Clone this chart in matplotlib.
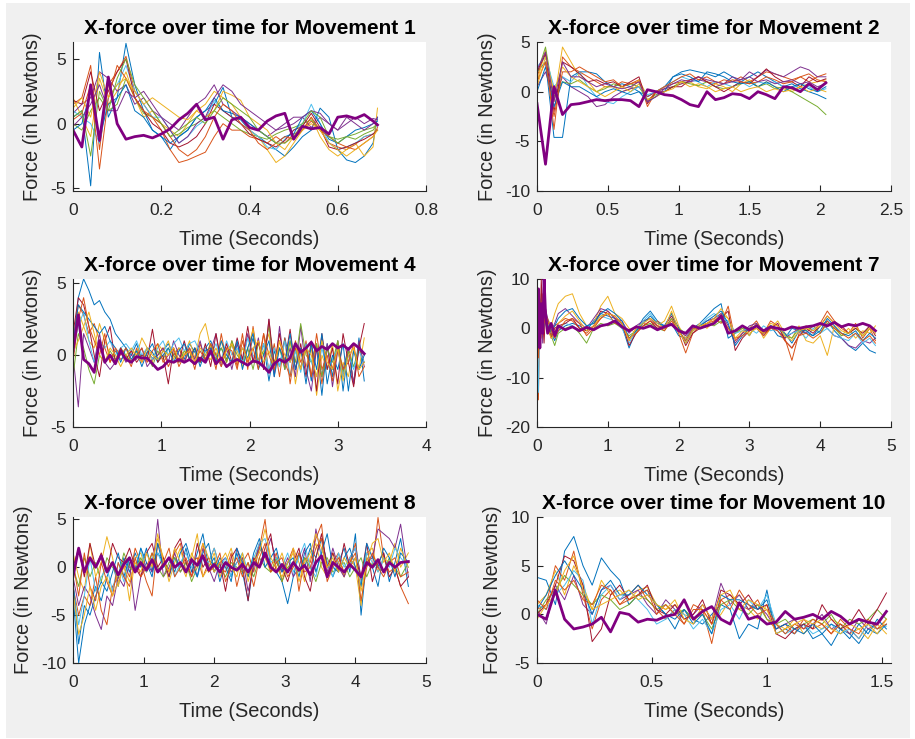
import matplotlib
matplotlib.use("Agg")
import matplotlib.pyplot as plt
from matplotlib.patches import Rectangle

plt.rcParams['font.family'] = ['Liberation Sans', 'DejaVu Sans']
plt.rcParams['axes.unicode_minus'] = False

# MATLAB default line colours, used in turn for the thin trial lines
TRIAL_COLORS = ['#0072BD', '#D95319', '#EDB120', '#7E2F8E', '#77AC30', '#4DBEEE', '#A2142F']
HIGHLIGHT_COLOR = '#800080'

# ---------------- Movement 1 ----------------
T_M1 = [0, .02, .04, .06, .08, .10, .12, .14, .16, .18, .20, .22, .24, .26, .28, .30, .32, .34,
        .36, .38, .40, .42, .44, .46, .48, .50, .52, .54, .56, .58, .60, .62, .64, .66, .68, .69]
M1_TRIALS = [
    [0.5, 1.0, -4.8, 5.5, 0.5, 2.0, 6.2, 3.0, 1.0, -0.5, -1.0, -2.0, -1.0, -0.5, 0.5, 1.0, 1.5, 2.8,
     0.5, 0.3, -0.5, -1.0, -1.5, -2.0, -2.5, -1.8, -1.0, -0.5, 1.2, 0.5, -2.0, -2.8, -3.0, -2.5, -1.5, 0.5],
    [1.5, 2.0, 4.5, -2.0, 3.0, 4.0, 5.2, 2.5, 1.5, 0.5, -0.5, -2.0, -3.0, -2.8, -2.5, -2.2, -1.0, 0.0,
     -0.5, -0.5, -1.0, -1.2, -1.5, -1.0, -1.5, -0.8, -0.5, 0.2, -0.5, -1.5, -1.8, -2.0, -1.6, -1.0, -0.8, -0.5],
    [2.0, 0.5, -1.0, 3.5, 1.5, 2.5, 4.0, 2.0, 0.5, 1.0, 0.0, -0.5, -1.0, 0.0, 1.0, 1.5, 2.5, 2.0,
     1.5, 0.5, -0.5, -1.0, -2.0, -3.0, -2.5, -1.5, -0.5, 0.5, -1.0, -2.0, -2.5, -2.0, -1.5, -2.5, -1.8, 1.2],
    [0.8, 1.5, 2.0, 4.0, 3.5, 2.5, 3.0, 1.5, 2.0, 1.0, 0.5, 0.0, -0.5, 0.5, 1.5, 2.0, 3.0, 1.5,
     1.0, 0.5, 0.0, -0.5, -1.0, -0.5, 0.0, 0.5, 0.5, -0.3, 0.5, 0.0, -0.5, 0.0, 0.5, 0.0, 0.4, 0.3],
    [0.0, -0.5, 1.0, 2.0, 1.0, 1.5, 3.5, 2.0, 0.8, 0.5, 0.0, -1.0, -0.8, -0.3, 0.0, 0.5, 1.0, 0.5,
     0.0, -0.5, -0.8, -1.0, -1.2, -0.8, -0.5, -0.3, 0.0, 0.3, -0.5, -1.0, -1.2, -1.0, -0.8, -0.5, -0.3, 0.0],
    [1.0, 0.5, 0.0, -1.5, 2.0, 3.0, 4.5, 2.5, 1.5, 0.5, 0.5, -0.5, -1.5, -1.0, -0.2, 0.3, 1.8, 1.0,
     0.5, 0.0, -0.5, -1.0, -1.8, -2.0, -1.2, -0.5, 0.0, 1.5, 0.0, -1.5, -2.0, -1.8, -1.5, -1.0, -0.8, -0.5],
    [1.8, 1.5, 4.0, 1.0, 2.5, 4.0, 5.0, 2.0, 1.0, 0.0, -0.5, -1.5, -1.8, -1.5, -1.0, 0.0, 1.5, 1.0,
     0.5, 0.0, -0.8, -1.2, -1.5, -1.8, -1.3, -0.5, -0.2, 0.8, -0.3, -1.8, -2.0, -1.8, -1.5, -1.2, -0.8, -0.5],
    [-0.5, 0.0, 2.5, -1.0, 1.5, 2.0, 3.0, 1.0, 0.5, -0.5, -1.0, -1.5, -1.0, -0.5, 0.5, 1.0, 2.0, 1.0,
     0.8, 0.5, 0.0, -0.5, -1.0, -1.5, -1.0, -0.8, 0.5, 1.0, 0.0, -1.2, -1.5, -1.0, -0.5, -0.3, 0.0, 0.2],
    [0.3, 0.8, 3.0, -3.5, 2.0, 4.5, 3.5, 2.0, 1.0, 0.5, 0.0, -1.0, -2.0, -2.5, -2.0, -1.0, 0.5, 1.5,
     1.0, 0.0, -0.5, -1.5, -2.0, -1.5, -1.0, -1.2, -0.5, 0.5, -0.5, -1.0, -1.5, -1.8, -2.0, -1.5, -1.0, -0.3],
    [1.2, 2.0, 0.5, 4.0, 2.0, 3.0, 3.5, 2.5, 1.5, 2.0, 1.5, 1.0, 0.5, 0.3, 1.0, 0.5, 1.0, 2.5,
     2.2, 1.8, 0.5, 0.0, -0.5, -1.5, -2.0, -1.0, -0.5, 0.0, -0.5, -1.5, -2.0, -2.5, -2.0, -1.5, -1.0, -0.5],
    [-0.2, 0.5, 1.5, 3.0, 1.0, 1.0, 2.5, 2.0, 2.5, 1.5, 0.5, -0.5, -1.5, -1.0, 0.0, 0.5, 2.0, 3.0,
     2.5, 1.5, 1.0, 0.5, 0.0, -0.5, -0.3, 0.0, 0.5, 1.0, 0.8, 0.0, -0.5, 0.5, 0.0, -0.5, 0.0, 0.5],
    [0.5, 1.0, -2.5, 2.5, 1.0, 3.5, 5.0, 3.0, 2.0, 1.0, 0.0, -1.0, -0.5, 0.0, 0.5, 0.0, 1.0, 2.0,
     1.5, 1.0, 0.5, -0.5, -1.0, -1.5, -1.5, -1.0, 0.0, 1.0, 0.5, -1.0, -1.5, -1.0, -1.2, -0.8, -0.5, 0.0],
]
M1_HIGHLIGHT = [-0.5, -1.8, 3.0, -1.3, 3.6, 0.0, -1.2, -1.0, -0.9, -1.1, -0.8, -0.4, 0.3, 0.8, 1.5, 0.3,
                0.5, -1.2, 0.3, 0.5, -0.3, -0.5, 0.2, 0.6, 0.8, -1.2, -0.2, -0.4, -0.3, -0.8, 0.5, 0.6,
                0.4, 0.7, 0.2, -0.1]

# ---------------- Movement 2 ----------------
T_M2 = [0, .06, .12, .18, .24, .30, .36, .42, .48, .54, .60, .66, .72, .78, .84, .90, .96, 1.02,
        1.08, 1.14, 1.20, 1.26, 1.32, 1.38, 1.44, 1.50, 1.56, 1.62, 1.68, 1.74, 1.80, 1.86, 1.92, 1.98, 2.04]
M2_TRIALS = [
    [2.0, 3.0, -4.6, -4.6, 1.5, 2.0, 2.0, 1.8, 1.0, 0.5, 0.8, 0.5, 0.0, -0.5, 0.0, 0.5, 1.5, 2.0,
     2.2, 2.0, 1.8, 1.5, 2.0, 1.5, 1.0, 1.5, 2.0, 1.5, 1.0, 0.5, 0.8, 0.3, 0.0, -0.3, -0.7],
    [1.5, 4.0, -3.8, 3.5, 2.5, 2.0, 1.5, 1.0, 0.5, 0.5, 1.0, 0.8, 1.2, -1.5, 0.0, 0.5, 0.8, 1.0,
     1.2, 1.5, 1.0, 0.8, 1.2, 1.0, 1.5, 1.0, 1.5, 2.0, 1.8, 1.5, 1.2, 1.5, 1.0, 1.5, 1.8],
    [1.0, 4.2, -1.0, 4.5, 3.0, 1.5, 1.0, 0.0, 0.5, 0.5, 0.0, 0.3, 1.2, -0.5, 0.0, 0.3, 0.5, 0.8,
     1.0, 0.5, 0.3, 0.8, 0.5, 0.0, 0.8, 1.2, 0.5, 1.0, 0.5, 0.3, 0.0, 0.5, 0.8, 1.0, 1.2],
    [0.5, 2.0, -0.8, 1.5, 0.5, 0.0, -0.5, -1.5, -1.3, -0.5, 0.0, 0.3, 0.5, -0.5, 0.0, 0.3, 0.5, 0.8,
     1.0, 1.2, 1.0, 0.5, 0.8, 1.5, 1.2, 2.0, 1.5, 2.2, 1.8, 1.5, 2.0, 2.5, 2.2, 1.5, 1.5],
    [1.8, 4.5, -0.5, 1.0, 0.8, 1.2, 0.5, 0.0, 0.3, 0.8, 0.5, 0.8, 0.5, -0.8, -0.3, 0.0, 0.5, 1.0,
     0.8, 0.6, 1.0, 0.5, 0.3, 0.5, 0.8, 1.0, 0.5, 0.8, 0.3, 0.5, 0.0, -0.5, -1.0, -1.5, -2.3],
    [2.5, 3.5, 0.5, 1.5, 1.0, 2.0, 0.5, -0.5, -1.0, -1.2, -0.5, 0.0, 0.5, -0.3, 0.0, 0.5, 1.0, 1.5,
     1.2, 1.0, 0.5, 1.0, 0.8, 0.5, 1.0, 0.5, 1.0, 0.8, 1.0, 0.5, 0.3, 0.8, 0.5, 0.0, 0.3],
    [2.0, 3.8, -2.0, 3.0, 2.5, 1.8, 1.0, 1.2, 0.8, 1.0, 0.5, 1.0, 1.5, -1.2, 0.0, 0.0, 0.5, 0.5,
     1.2, 1.5, 1.0, 0.5, 0.0, 0.5, 1.0, 0.8, 1.5, 2.3, 1.5, 1.0, 1.0, 0.5, 1.5, 1.0, 1.3],
    [0.0, 2.5, -1.5, 1.0, 0.5, 0.5, 0.0, -0.5, 0.0, 0.3, 0.0, -0.3, 0.0, -1.0, -0.5, 0.0, 1.5, 1.8,
     1.5, 1.0, 2.0, 1.8, 1.5, 1.0, 0.8, 1.0, 0.5, 1.0, 0.5, 0.0, 0.5, 0.8, 0.3, 0.0, 0.5],
    [1.0, 3.0, -2.5, 2.0, 2.0, 2.5, 2.0, 1.5, 1.0, 1.2, 0.5, 0.8, 1.0, -1.0, 0.0, 0.5, 1.0, 1.5,
     1.8, 1.2, 1.5, 1.0, 0.8, 1.2, 1.0, 0.8, 1.0, 1.5, 1.2, 0.8, 1.0, 1.5, 1.8, 1.2, 1.0],
    [0.5, 3.5, 0.0, 2.5, 1.5, 1.0, 0.5, 0.0, -0.5, 0.0, 0.5, 0.0, 0.8, -0.8, -0.5, 0.0, 0.3, 1.0,
     0.5, 0.8, 0.5, 0.0, 0.3, 0.5, 0.0, 0.3, 0.5, 0.0, 0.3, 0.0, 0.2, 0.5, 0.0, 0.3, 0.0],
    [2.2, 4.0, -1.0, 3.0, 1.5, 1.5, 1.0, 0.5, 0.8, 0.5, 0.3, 0.5, 1.0, -1.0, -0.5, 0.3, 0.8, 1.2,
     1.0, 1.5, 1.2, 1.0, 0.8, 1.0, 1.2, 1.5, 1.0, 1.2, 0.8, 1.0, 1.2, 0.8, 1.0, 0.5, 0.8],
]
M2_HIGHLIGHT = [-1.2, -7.3, 0.5, -2.3, -1.3, -1.2, -1.0, -0.8, -0.9, -0.8, -0.8, -0.9, -1.5, 0.2,
                0.0, -0.3, -0.4, -0.8, -1.3, -1.5, 0.0, -0.8, -0.6, -0.2, -0.3, -0.7, 0.0, -0.3,
                -0.7, 0.5, 0.4, 0.0, 0.8, 0.2, 0.9]

# ---------------- Movement 4 ----------------
T_M4 = [0, .06, .12, .18, .24, .30, .36, .42, .48, .54, .60, .66, .72, .78, .84, .90, .96, 1.02,
        1.08, 1.14, 1.20, 1.26, 1.32, 1.38, 1.44, 1.50, 1.56, 1.62, 1.68, 1.74, 1.80, 1.86, 1.92,
        1.98, 2.04, 2.10, 2.16, 2.22, 2.28, 2.34, 2.40, 2.46, 2.52, 2.58, 2.64, 2.70, 2.76, 2.82,
        2.88, 2.94, 3.00, 3.06, 3.12, 3.18, 3.24, 3.30]
M4_TRIALS = [
    [0.5, 4.0, 5.3, 4.5, 3.5, 3.8, 3.0, 2.5, 1.5, 1.0, 0.5, 0.0, 0.8, -0.3, 0.5, 0.2, -0.5, 0.3,
     0.8, 0.0, 0.5, -0.3, 0.8, 0.2, -0.5, 0.5, 1.0, 0.0, 0.5, -0.3, 0.8, -0.5, 0.5, -0.2, 1.2, -0.5,
     0.8, -1.8, 0.3, -0.8, 1.2, -0.5, 0.5, -1.0, 0.8, -1.8, 0.5, -2.8, 0.8, -1.5, 1.0, -2.5, 0.5,
     -2.0, 1.2, -1.8],
    [1.0, 3.5, 2.8, 1.5, 2.2, 1.0, 0.5, -0.5, 0.3, -0.3, 0.0, -0.8, 0.5, -0.5, 0.2, -0.2, 0.0, 0.5,
     -0.8, 0.0, 0.5, -0.5, 0.3, -1.0, 0.8, -0.3, 0.5, -1.0, 1.5, -0.5, 1.0, -0.8, 1.5, -1.0, 2.0,
     -0.5, 1.5, -1.2, 0.8, -1.5, 1.2, -2.0, 0.5, -1.0, 1.0, -1.5, 0.8, -2.0, 0.5, -1.0, 1.0, -1.5,
     0.5, -2.0, 0.5, -0.5],
    [0.8, 3.0, 2.0, 1.0, 0.5, 2.2, 1.0, 0.0, -0.5, 0.5, -0.3, 0.3, 0.0, 1.2, 0.5, -0.5, 0.8, 0.3,
     1.0, -0.3, 0.5, 0.0, 1.0, -0.2, 1.5, 2.2, 0.5, 0.0, 1.0, -0.5, 0.8, 0.3, -0.8, 0.5, 1.8, -0.5,
     0.3, 1.5, -1.2, 0.5, -0.5, 1.0, -2.0, 0.2, -0.8, 0.5, -2.8, 0.0, -1.0, 0.8, -2.5, -0.5, -1.5,
     0.5, -1.0, 1.2],
    [0.0, -3.6, 1.5, 0.5, -0.5, 1.5, -0.5, -1.0, -0.5, 0.2, -0.5, 0.0, -0.3, 0.5, -0.8, -0.3, 0.0,
     0.5, -0.5, 1.0, 0.0, -0.5, 0.5, -0.3, 1.0, -0.5, 0.3, 1.5, -0.8, 0.5, -1.0, 0.8, -0.5, 1.5,
     -0.5, 1.2, -1.0, 2.5, -1.5, 2.0, -1.0, 0.5, -1.5, 2.0, -1.0, -2.5, 0.5, -1.5, 0.8, -2.2, 0.3,
     -1.0, 0.5, -2.0, 1.0, -0.8],
    [-1.5, 1.5, 0.5, -1.0, -2.0, 0.0, -0.5, 0.3, -0.3, 0.5, 0.0, -0.5, 0.3, -0.2, 0.0, -0.8, 0.3,
     -0.3, 0.5, 0.0, -0.5, 0.3, -0.2, 0.5, -0.5, 0.0, 0.8, -0.3, 0.5, -0.5, 1.0, 0.0, -0.5, 0.5,
     -1.0, 0.8, 0.0, 2.0, -0.5, 0.5, -1.0, 1.0, -0.5, 2.2, 0.0, -0.5, 0.8, -1.5, 0.5, -0.5, 1.0,
     -1.2, 0.3, -0.8, 0.5, 0.0],
    [0.5, 2.0, 3.0, 1.0, -0.5, 1.0, 0.5, 1.0, 0.0, 0.5, 0.8, 0.3, 1.0, 0.0, 0.5, -0.3, 0.5, 1.0,
     0.0, 0.8, 1.2, 0.3, 0.8, 1.0, 0.2, 0.5, 0.0, 0.8, -0.3, 1.0, 0.0, 0.5, -0.5, 1.2, 0.0, -0.5,
     0.8, -1.0, 0.5, -0.8, 1.0, -1.5, 0.3, -1.2, 0.8, -0.5, -1.5, 0.5, -1.0, -0.3, 0.5, -1.5, 0.0,
     -1.0, 0.3, -0.5],
    [1.5, 4.0, 3.5, 2.0, 0.0, -1.5, 1.0, 2.0, -0.5, 0.5, -0.3, 0.3, -0.5, 0.0, -0.3, 1.8, -0.5,
     0.0, -2.0, 0.5, -0.5, 1.0, -0.3, 0.5, -0.5, 0.8, -0.8, 1.5, -0.5, 0.8, -0.5, 1.2, -0.3, 2.0,
     -0.5, 1.0, -1.0, 2.5, -0.8, 1.5, -0.5, 1.8, -1.0, 0.8, -1.5, 1.0, -2.5, 1.5, -1.0, 0.5, -2.0,
     1.5, -0.5, -2.2, 0.5, 2.2],
    [0.8, 3.5, 3.0, 2.5, 2.0, 1.5, 2.0, 1.0, 0.5, -0.5, 0.5, -0.3, 0.3, -0.8, 0.2, 0.8, -0.3, 0.0,
     0.5, -0.5, 0.3, 0.8, -0.3, 0.5, -0.8, 0.3, 0.5, -0.5, 1.0, 0.0, -0.5, 1.0, -1.0, 0.5, 1.5,
     -1.0, 0.0, 1.0, -1.5, 0.5, -0.5, 1.5, -1.0, 0.5, -2.0, 0.8, -1.0, 1.5, -2.0, 0.0, -1.0, 0.8,
     -2.5, 0.3, -1.0, 0.0],
    [-0.5, 2.5, 4.0, 2.0, 1.0, 0.0, 1.5, -0.5, 0.5, 0.0, 0.5, -0.5, 0.0, 0.5, -0.5, 0.3, 0.8, -0.5,
     0.0, 0.5, -0.8, 0.0, 0.5, -0.5, 0.3, -0.3, 0.8, 0.0, -0.8, 0.5, 0.3, -1.0, 1.0, -0.5, 0.5,
     -1.0, 1.5, 0.0, -1.0, 1.0, -0.5, -1.5, 1.0, -0.5, 0.5, -1.5, 1.5, -1.0, 0.0, -1.8, 0.5, -1.0,
     -0.5, 0.8, -1.5, -0.8],
    [0.2, 1.0, 2.0, 3.0, 1.5, 0.0, -0.5, 0.5, 0.0, -0.8, 0.0, 0.5, 0.0, -0.5, 0.5, 0.0, -0.3, 0.3,
     0.0, 0.5, -0.3, 0.0, 0.3, -0.5, 0.5, 0.0, -0.3, 0.5, -0.5, 0.3, 0.8, -0.5, 0.5, -0.3, 0.5,
     1.0, -0.5, 0.3, -0.8, 1.0, 0.0, -0.5, 0.8, -1.0, 0.5, 0.0, -1.5, 1.0, -0.5, -1.0, 0.5, -1.8,
     0.0, 0.5, -1.0, -0.5],
]
M4_HIGHLIGHT = [0.3, 2.8, -0.3, -0.6, -1.2, 1.0, -0.5, 0.0, -0.6, 0.3, -0.3, -0.5, -0.1, -0.2,
                -0.2, -0.6, -1.0, -0.8, -0.4, -0.5, -0.3, -0.5, -0.3, -0.6, -0.2, -0.5, 0.3, -0.6,
                -0.2, -0.8, -0.5, -0.3, -0.5, -0.7, -0.4, -0.5, -0.8, -1.2, -0.6, -0.3, -0.5, -0.2,
                0.8, 0.2, 0.5, 0.9, 0.3, 0.6, 0.4, 0.8, 0.5, 0.7, 0.4, 0.8, 0.5, 0.1]

# ---------------- Movement 7 ----------------
T_M7 = [0, .02, .04, .06, .08, .10, .12, .15, .20, .25,
        .3, .4, .5, .6, .7, .8, .9, 1.0, 1.1, 1.2, 1.3, 1.4, 1.5, 1.6, 1.7, 1.8, 1.9, 2.0, 2.1,
        2.2, 2.3, 2.4, 2.5, 2.6, 2.7, 2.8, 2.9, 3.0, 3.1, 3.2, 3.3, 3.4, 3.5, 3.6, 3.7, 3.8, 3.9,
        4.0, 4.1, 4.2, 4.3, 4.4, 4.5, 4.6, 4.7, 4.78]
M7_TRIALS = [
    [0.0, 3.0, -4.0, 6.0, 2.0, 9.0, 3.0, 1.0, -1.0, -2.5,
     -0.5, 0.5, 1.0, 0.5, -0.5, 1.5, 3.0, 2.5, 2.0, 0.5, -4.0, -0.5, 2.0, 3.5, 1.5, 0.5, 1.0,
     -1.5, -2.0, 0.0, 1.0, 2.5, 4.0, 5.0, -2.0, -1.0, 0.5, -1.5, 1.0, -0.5, 0.5, -1.5, -2.0,
     0.0, -0.5, -1.0, -1.5, 0.5, 1.5, -0.5, -2.0, -3.5, -4.5, -3.0, -4.5, -5.0],
    [0.0, -14.5, 2.0, 5.0, -1.0, 4.0, 1.0, 0.5, -1.5, 0.5,
     1.0, 2.0, 1.5, 0.0, -1.0, 0.5, 2.0, 3.5, 2.0, 1.0, -2.5, 0.0, 1.0, 0.5, 1.5, 0.0, 2.0,
     -1.0, -5.0, -1.0, 0.5, 1.0, 2.0, 1.0, 4.5, -2.5, -1.0, 0.0, 1.5, -1.0, 1.5, 0.5, -2.0,
     -6.5, -1.0, 0.5, -0.5, 1.0, 3.5, 1.5, 0.0, -1.0, 1.0, -2.0, 0.0, -2.5],
    [0.0, 5.0, 1.0, -2.0, 4.0, 1.0, 3.0, 2.0, 0.5, 3.0,
     5.0, 6.5, 7.0, 3.0, 0.5, 1.0, 4.5, 6.5, 3.0, 2.0, 0.0, -1.0, 1.5, 2.0, 0.5, 1.5, 4.5,
     0.5, -2.0, -0.5, 1.0, 0.0, 1.5, 3.0, 2.0, -1.0, 0.0, -1.5, 1.0, -2.0, 0.0, 1.5, -1.0,
     -2.0, 0.5, -2.5, -3.0, -1.5, -5.5, 0.5, -1.5, 0.0, -2.0, -0.5, -1.0, 0.5],
    [0.0, 4.0, -2.0, 7.0, -3.0, 8.0, 4.0, 2.0, -0.5, 1.0,
     3.0, 4.0, 2.5, 1.0, 0.0, 2.0, 4.0, 3.5, 2.0, 1.5, -1.0, 0.5, 1.5, 2.0, 0.5, 0.0, 1.0,
     -0.5, -1.5, 0.0, 0.5, 1.5, 2.0, 3.0, 0.5, -3.0, -1.0, 0.5, 1.0, -1.5, 0.5, -0.5, -2.0,
     -1.0, 0.0, -1.0, 0.5, 1.0, 0.0, -1.5, -2.0, -3.5, -4.0, -2.5, -3.0, -2.0],
    [0.0, 2.0, -1.0, 3.0, 0.0, 5.0, 1.0, -0.5, -1.5, -3.5,
     -1.0, 0.0, 0.5, -1.0, -3.0, 0.0, 1.0, 0.5, 1.0, 0.0, -1.5, -0.5, 0.5, 1.0, 0.0, -0.5, 2.0,
     0.0, -1.0, 0.5, 0.0, 1.0, 0.5, 1.5, 0.0, -1.0, 0.0, -0.5, 0.5, -1.0, 0.5, 0.0, -1.5,
     -2.0, 0.0, -0.5, 0.5, -1.0, 1.0, 0.0, -1.5, -1.0, 0.0, -1.5, 0.5, -0.5],
    [0.0, -13.0, 3.0, 1.0, 6.0, 0.0, 2.0, 1.0, 0.0, -1.0,
     0.0, 1.0, 0.5, -0.5, 0.5, 1.0, 2.5, 2.0, 1.5, 0.0, -3.0, -0.5, 1.5, 3.0, 1.0, 0.5, 1.0,
     -0.5, -2.5, 0.0, 0.5, 2.0, 3.0, 2.0, 1.5, -1.0, -0.5, 0.0, -1.0, 0.5, -0.5, 0.0, -1.5,
     -1.0, -0.5, -2.0, 0.0, -1.0, 0.0, -1.5, -2.0, -2.5, -1.0, -3.0, -2.0, -3.5],
    [0.0, 6.0, -2.0, 10.0, 2.0, -3.0, 4.0, 0.5, -2.0, 0.0,
     0.5, 1.0, 2.0, 0.0, -0.5, 0.5, 3.5, 3.0, 2.5, 1.0, -3.5, -1.0, 0.5, 1.5, 0.0, 0.5, 2.5,
     0.0, -3.5, -1.0, 0.0, 0.5, 1.0, 2.0, 3.5, -4.5, -2.0, -0.5, 0.5, -1.0, 0.0, 1.0, -2.5,
     -4.0, -1.5, 0.0, -1.0, 0.5, 2.5, 1.0, 0.5, -1.0, 0.0, -1.0, 0.5, -1.5],
    [0.0, 2.0, 1.0, 4.0, 0.0, 6.0, 2.0, 0.5, -0.5, 0.5,
     2.0, 3.5, 4.0, 2.0, 0.5, 1.0, 3.0, 4.0, 3.0, 1.5, -2.0, -0.5, 1.0, 2.5, 1.0, 0.5, 3.0,
     0.0, -3.0, -0.5, 0.5, 1.5, 2.5, 3.5, 1.0, -3.5, -1.5, 0.0, 0.5, -0.5, 0.5, 0.0, -1.0,
     -3.0, -0.5, -0.5, -1.5, -0.5, 2.0, 0.5, -1.0, -1.5, -0.5, -2.5, -1.0, -2.0],
    [0.0, -6.0, 4.0, 2.0, 7.0, 1.0, 3.0, 1.5, -0.5, -2.0,
     -0.5, 1.5, 2.0, 1.0, -1.5, 0.0, 2.0, 3.0, 1.0, 0.5, -2.0, -1.0, 0.5, 1.5, 0.5, -0.5, 1.5,
     -0.5, -2.5, 0.0, 0.0, 1.0, 1.5, 2.5, 0.0, -2.0, -1.5, -0.5, 0.0, -1.5, 0.0, -0.5, -2.5,
     -4.0, -1.5, -1.0, -2.0, -1.0, 1.5, 0.0, -1.0, -2.0, -1.0, -2.5, -1.5, -3.0],
    [0.0, 4.0, -3.0, 5.0, 1.0, 7.0, 2.0, 0.0, -2.0, -1.0,
     1.0, 2.5, 3.5, 1.5, -0.5, 0.5, 2.5, 3.0, 2.5, 1.0, -2.5, 0.0, 1.0, 2.0, 1.0, 0.0, 3.5,
     -0.5, -3.0, -0.5, 0.5, 1.0, 2.0, 4.0, 2.0, -2.0, -0.5, -1.0, 0.0, -1.0, 1.0, 0.5, -1.5,
     -2.5, -0.5, 0.0, -0.5, 0.5, 2.5, 1.0, -0.5, -1.0, 0.5, -1.5, 0.0, -1.0],
]
M7_HIGHLIGHT = [0.0, 8.0, -4.0, 5.0, -1.0, 10.0, 3.0, -1.0, 1.0, -1.5,
                0.5, -0.3, 0.3, -0.5, 0.2, -0.3, 0.5, 0.8, 1.5, 0.3, -0.5, 0.3, 0.0, 0.5, -0.3,
                0.3, 0.8, -0.5, -1.0, 0.5, 0.0, 0.5, 1.0, 2.5, -1.0, -0.5, 0.5, -0.3, 0.5, -0.5,
                0.3, 0.0, -0.3, 0.3, 0.0, 0.3, 0.5, 1.0, 0.5, 1.2, 0.3, 0.8, 0.5, 1.0, 0.5, -0.5]

# ---------------- Movement 8 ----------------
T_M8 = [0, .08, .16, .24, .32, .40, .48, .56, .64, .72, .80, .88, .96, 1.04, 1.12, 1.20, 1.28,
        1.36, 1.44, 1.52, 1.60, 1.68, 1.76, 1.84, 1.92, 2.00, 2.08, 2.16, 2.24, 2.32, 2.40, 2.48,
        2.56, 2.64, 2.72, 2.80, 2.88, 2.96, 3.04, 3.12, 3.20, 3.28, 3.36, 3.44, 3.52, 3.60, 3.68,
        3.76, 3.84, 3.92, 4.00, 4.08, 4.16, 4.24, 4.32, 4.40, 4.48, 4.56, 4.64, 4.75]
M8_TRIALS = [
    [-3.0, -10.0, -6.0, -4.0, -2.0, -3.5, -1.0, 0.5, -2.0, 1.0, -0.5, 1.5, 0.0, 2.0, -0.5, 1.5,
     0.5, -1.0, 1.0, 0.0, 2.0, -0.5, 1.5, 3.5, 0.0, 1.0, -1.5, 0.5, -1.0, 1.5, -0.5, -3.5, 0.5,
     2.0, 1.0, 0.0, -0.5, -1.5, -3.8, -1.0, 1.5, 0.0, 2.0, 1.0, 3.0, 0.5, -1.0, 0.5, 2.0, -0.5,
     3.5, -5.0, 1.0, 0.0, -2.0, 1.5, -1.5, 0.5, 3.0, -2.0],
    [-2.0, -5.0, -3.0, -4.0, -1.0, -4.5, -6.0, -2.0, -1.0, 0.5, -1.0, 2.0, 0.5, -1.5, -3.0, 2.5,
     1.0, -0.5, 1.5, 2.5, -0.5, 0.5, 1.0, -1.0, 0.5, 2.0, 0.0, -0.5, 1.5, -2.0, 0.5, 1.5, -0.5,
     2.0, 5.0, 0.0, 1.5, -1.5, 0.5, 2.0, -2.5, 1.0, 0.5, 3.0, 4.5, -1.0, 0.5, 1.5, -1.0, 0.5,
     2.5, -1.5, 1.0, 0.0, 5.2, 1.0, -0.5, 0.0, -2.0, -3.8],
    [1.5, -1.0, -2.5, 2.5, -1.0, 0.5, 3.2, 1.0, -2.0, 0.5, -3.5, 1.0, 1.5, -0.5, 0.5, 3.0, 1.0,
     -1.5, 0.5, 2.0, -0.5, 1.0, 3.5, -1.0, 0.0, 1.5, -1.0, 0.5, 2.0, -0.5, 1.0, -1.0, 0.5, 2.5,
     1.0, -0.5, 0.0, 1.5, -0.5, 2.0, 0.5, -1.5, 1.0, 2.5, 0.0, -1.0, 1.5, 0.5, -1.0, 1.0, 0.0,
     -4.0, 1.5, 2.0, -0.5, 1.0, 0.5, 2.5, 0.0, 1.5],
    [-1.0, -4.0, -2.0, -3.0, -5.0, -6.5, -3.0, -4.0, -1.0, -2.0, 0.5, -4.5, -1.0, 0.5, -0.5, 5.0,
     -1.0, 0.0, 1.5, -0.5, 0.5, 1.0, -1.0, 2.0, 0.0, -1.5, 0.5, 1.0, -0.5, 0.5, 1.0, -2.5, 0.0,
     2.5, 1.0, 3.0, 0.5, -0.5, 1.0, -1.0, 0.0, 2.0, -1.5, 4.0, 1.0, -0.5, 2.0, 0.0, -1.0, 1.0,
     2.0, -1.0, 0.5, 1.0, 4.0, 3.5, 3.0, 2.0, 4.5, -1.0],
    [0.0, -2.0, 1.0, -1.0, 0.5, -1.5, 1.0, 0.0, -1.0, 1.5, 0.0, -0.5, 1.0, -0.5, 1.5, 0.0, -1.0,
     0.5, 1.0, -0.5, 0.5, -1.5, 0.0, 1.0, -0.5, 0.5, 0.0, -1.0, 0.5, 0.0, -0.5, 0.5, -1.0, 1.0,
     0.0, -0.5, 1.0, -1.5, 0.0, 0.5, -0.5, 1.0, 0.0, -1.5, 0.5, 1.0, -0.5, 0.0, 0.5, -1.0, 0.0,
     1.0, -1.0, 0.5, 0.0, -0.5, 1.0, 0.0, -1.0, 0.5],
    [-2.0, -6.0, -3.0, 1.0, -2.5, -1.0, 0.0, -2.5, 0.5, -1.5, 1.0, 0.0, 2.0, -0.5, 1.0, 1.5, 0.0,
     1.0, -1.0, 0.5, 1.5, 0.0, -1.0, 1.0, 0.5, 2.0, 0.0, 1.0, -1.0, 0.5, 1.5, -0.5, 1.0, 2.5,
     3.0, 0.5, 1.0, 0.0, 1.5, -0.5, 1.0, 2.5, 0.0, -1.0, 2.0, 0.5, -1.0, 1.5, 0.0, 1.0, 2.0,
     -2.0, 1.5, 0.5, -0.5, 1.0, 0.0, 2.0, 1.0, 0.0],
    [0.0, 2.0, -1.0, 2.5, 0.0, 1.5, -0.5, 2.5, 1.0, 0.5, 2.0, 0.0, -1.0, 1.5, 2.5, 0.0, 1.0,
     -1.0, 2.0, 3.0, 0.5, -1.0, 2.5, 0.0, 1.0, -0.5, 0.5, -2.5, 1.0, 2.0, 0.0, -3.5, 1.0, 0.0,
     2.0, 3.5, -0.5, 0.0, -1.5, 0.5, 2.0, -1.0, -2.5, 1.0, 3.5, 0.0, 1.5, -0.5, 2.5, 0.0, 1.0,
     -1.0, 2.5, -1.5, 0.5, 1.5, -1.0, 0.0, -2.0, -1.0],
    [-1.5, -8.0, -4.0, -5.0, -3.0, -1.5, -2.5, -0.5, 1.5, -1.0, 1.0, -0.5, 2.0, 0.5, -1.0, 2.5,
     0.0, 1.0, -0.5, 1.5, 2.5, 0.5, -1.0, 1.5, 2.5, -0.5, 1.0, 0.0, -1.5, 2.0, 0.5, -1.0, 1.5,
     3.0, 0.0, 1.0, 2.0, -0.5, 0.5, 1.0, -1.0, 1.5, 2.5, -0.5, 1.5, 3.5, 0.0, -0.5, 1.0, 2.0,
     0.0, -2.0, 2.5, 1.0, 0.0, 2.0, 1.0, -1.0, 1.5, 0.5],
    [0.5, -3.0, 1.5, -2.0, -3.5, 0.5, -1.5, -3.0, 0.5, -1.0, -2.0, 1.0, -1.0, 0.0, 1.5, -0.5,
     0.5, 2.0, -1.0, 0.0, 1.0, -1.0, 0.5, 2.5, -0.5, 0.0, 1.5, -1.5, 0.0, 1.0, -1.0, 0.5, -2.0,
     1.0, 2.5, -0.5, 0.5, 1.0, -1.0, 0.0, 1.5, -0.5, 0.0, 2.0, 3.0, -1.5, 0.0, 1.0, -0.5, 0.5,
     1.5, -3.5, 0.0, 1.5, 0.0, -1.0, 0.5, 1.0, -1.0, -0.5],
    [-2.5, -7.0, -5.0, -2.0, -4.5, -2.0, -1.0, -3.0, -1.5, 0.0, -1.5, 0.5, -0.5, 1.5, 0.0, 3.5,
     0.5, -0.5, 2.0, 0.5, -1.0, 1.5, 0.0, 2.5, 1.0, -0.5, 0.5, 1.5, 0.0, -1.0, 1.5, -1.5, 0.5,
     1.5, 4.0, 1.0, 0.0, -1.0, 0.5, 1.5, -1.5, 0.5, 1.5, 3.5, 2.0, 0.0, 1.0, -0.5, 1.0, 0.0,
     1.0, -2.5, 0.5, 2.5, 3.0, 0.5, 1.5, -0.5, 2.0, 0.0],
]
M8_HIGHLIGHT = [-1.0, 2.0, -0.5, 1.0, 0.0, 1.2, -0.5, 0.5, -0.8, 0.3, 1.0, -0.5, 0.5, -0.3, 0.8,
                -0.5, 0.2, 1.0, 0.0, 0.5, -0.5, 0.8, 0.2, 1.2, -0.3, 0.3, -0.5, 0.5, 0.0, -0.3,
                0.3, -0.5, 0.5, 0.0, 1.5, 0.0, -0.5, 0.3, -0.5, 0.5, -0.3, 0.2, -0.8, 0.5, 1.2,
                -1.0, 0.5, 0.0, -0.5, 0.3, -0.3, -1.0, 0.5, 0.0, 0.8, -0.5, 0.5, 0.0, 0.5, 0.6]

# ---------------- Movement 10 ----------------
T_M10 = [0, .04, .08, .12, .16, .20, .24, .28, .32, .36, .40, .44, .48, .52, .56, .60, .64, .68,
         .72, .76, .80, .84, .88, .92, .96, 1.00, 1.04, 1.08, 1.12, 1.16, 1.20, 1.24, 1.28, 1.32,
         1.36, 1.40, 1.44, 1.48, 1.52]
M10_TRIALS = [
    [3.8, 3.5, 1.0, 6.5, 8.0, 5.0, 3.0, 5.8, 4.5, 3.5, 1.0, 2.0, 2.5, 1.0, 0.0, -1.5, 0.5, -0.5,
     -1.0, 0.0, 1.0, 0.5, -2.5, -1.0, -1.5, 2.5, -2.0, -1.5, -2.0, -1.0, -2.5, -2.0, -3.2, -1.5,
     -2.0, -3.0, -1.5, -2.0, -1.0],
    [0.5, 1.0, 5.0, 3.5, 6.5, 2.0, -1.5, 1.5, 2.5, 1.0, 2.0, 3.0, 1.5, 0.5, -0.5, 0.5, -1.0, 1.0,
     0.5, -3.0, 1.5, 2.0, 1.0, 0.5, 1.5, -0.5, -1.5, -1.0, -2.0, -0.5, -1.5, -1.0, -2.0, -0.5,
     -1.5, -2.5, -1.0, -1.5, -0.5],
    [1.0, 2.0, 4.5, 2.0, 5.0, 3.0, 0.5, 3.5, 2.0, 2.5, 1.5, 2.5, 2.8, 1.0, 0.5, 1.0, 0.0, -0.5,
     0.5, -1.0, 0.0, 1.5, 2.0, 0.5, -0.5, 1.0, -1.0, -1.5, -0.5, -2.0, -1.0, -1.5, -0.5, -1.0,
     -2.0, -1.5, -2.5, -1.0, -2.0],
    [0.5, -1.0, 3.0, 1.5, 4.0, 1.0, 0.0, 2.5, 3.0, 1.5, 2.0, 2.5, 1.0, 0.0, 1.5, 0.5, -0.5, 0.0,
     1.0, -0.5, 3.2, 1.0, 2.0, 0.5, 1.0, 0.0, -1.5, -1.0, -0.5, -1.5, -1.0, 0.0, -1.5, -1.0,
     -2.0, -0.5, -1.5, -1.0, 0.3],
    [0.0, 1.5, 2.5, 4.0, 3.0, 2.0, 1.0, 2.0, 1.5, 0.5, 1.0, 2.0, 1.5, 0.5, 1.0, 0.0, 0.5, -0.5,
     0.0, -1.5, 1.0, 1.5, 0.5, 0.0, 1.0, -0.5, -1.0, -0.5, -1.5, -1.0, -0.5, -1.0, 0.0, -1.5,
     -0.5, -1.0, -0.5, 0.5, -0.5],
    [1.0, 0.5, 2.0, 3.0, 4.5, 3.5, -1.0, 2.0, 3.0, 1.5, 2.5, 1.5, 0.5, -1.0, -0.5, 0.5, 0.0, -1.5,
     -0.5, -2.0, 0.5, 1.0, -0.5, 1.5, 0.5, 2.0, -1.0, -2.0, -1.5, -1.0, -2.0, -1.5, -1.0, -2.0,
     -1.5, -2.5, -1.0, -1.5, -1.2],
    [0.0, 1.0, 3.0, 6.0, 5.5, 3.0, -2.8, -1.5, 2.0, 3.0, 1.5, 2.0, 3.0, 0.5, 0.0, 1.0, -0.5, 0.0,
     1.5, -1.0, 2.5, 2.0, 1.0, 2.0, 0.5, 1.0, -2.0, -2.5, -1.5, -1.0, -1.5, 1.0, -0.5, -1.5, -1.0,
     0.5, -1.0, 0.5, 2.2],
    [0.5, 2.0, 4.0, 5.5, 4.0, 2.5, 0.0, 2.5, 3.5, 2.0, 2.0, 3.0, 2.0, 1.0, 0.0, -0.5, 0.5, -1.0,
     0.0, -2.0, 2.0, 1.5, 1.5, 1.0, 0.5, 1.5, -1.5, -1.0, -1.5, -2.0, -1.0, -2.0, -1.0, -1.5,
     -2.5, -1.0, -2.0, -0.5, -1.5],
    [1.5, 0.5, 3.5, 2.5, 3.5, 1.5, 1.0, 3.0, 2.5, 1.0, 1.5, 2.0, 2.5, 0.0, 1.0, 0.0, -1.0, 0.5,
     0.5, -1.0, 1.5, 0.5, 2.5, 1.0, 0.0, 0.5, -1.0, -2.0, -1.0, -1.5, -0.5, -1.0, -2.0, -1.0,
     -1.5, -2.0, -0.5, -1.5, -1.0],
    [-0.5, 1.0, 2.0, 4.5, 6.0, 2.5, 0.5, 1.0, 1.5, 2.0, 2.5, 1.5, 2.0, 1.0, 0.5, 1.5, -0.5, -1.0,
     1.0, -0.5, 2.0, 2.5, 0.5, 1.5, 1.0, 0.5, -2.0, -1.5, -1.0, -0.5, -1.0, -0.5, -1.5, -2.0,
     -1.0, -1.5, -1.0, -2.0, -0.5],
]
M10_HIGHLIGHT = [0.0, -0.5, 2.5, -0.5, -1.5, -1.3, -1.0, -0.3, -1.8, 0.2, 0.0, -0.8, -0.5, -0.6,
                 -0.2, 0.0, 1.5, -0.5, 0.3, 0.8, -0.5, -1.0, 1.2, -0.5, -0.2, -1.0, -0.8, 0.3,
                 -0.5, -0.3, 0.0, -0.5, 0.3, -0.2, -1.0, -0.5, -0.8, -1.0, 0.3]

# ---------------- axes set-up ----------------
TITLES = ['X-force over time for Movement 1', 'X-force over time for Movement 2',
          'X-force over time for Movement 4', 'X-force over time for Movement 7',
          'X-force over time for Movement 8', 'X-force over time for Movement 10']
XTICKS = [[0, 0.2, 0.4, 0.6, 0.8], [0, 0.5, 1, 1.5, 2, 2.5], [0, 1, 2, 3, 4],
          [0, 1, 2, 3, 4, 5], [0, 1, 2, 3, 4, 5], [0, 0.5, 1, 1.5]]
XTICKLABELS = [['0', '0.2', '0.4', '0.6', '0.8'], ['0', '0.5', '1', '1.5', '2', '2.5'],
               ['0', '1', '2', '3', '4'], ['0', '1', '2', '3', '4', '5'],
               ['0', '1', '2', '3', '4', '5'], ['0', '0.5', '1', '1.5']]
YTICKS = [[-5, 0, 5], [-10, -5, 0, 5], [-5, 0, 5], [-20, -10, 0, 10], [-10, -5, 0, 5], [-5, 0, 5, 10]]
XLIMS = [(0, 0.8), (0, 2.5), (0, 4), (0, 5), (0, 5), (0, 1.54)]
YLIMS = [(-5.2, 6.3), (-10, 5), (-5, 5.3), (-20, 10), (-10, 5.25), (-5, 10)]

panels = [(T_M1, M1_TRIALS, M1_HIGHLIGHT), (T_M2, M2_TRIALS, M2_HIGHLIGHT),
          (T_M4, M4_TRIALS, M4_HIGHLIGHT), (T_M7, M7_TRIALS, M7_HIGHLIGHT),
          (T_M8, M8_TRIALS, M8_HIGHLIGHT), (T_M10, M10_TRIALS, M10_HIGHLIGHT)]

# axes boxes in figure fractions (left, bottom, width, height)
boxes = [(0.0798, 0.7415, 0.3858, 0.2016), (0.5869, 0.7415, 0.3869, 0.2016),
         (0.0798, 0.4222, 0.3858, 0.2003), (0.5869, 0.4222, 0.3869, 0.2003),
         (0.0798, 0.1028, 0.3858, 0.1976), (0.5869, 0.1028, 0.3869, 0.1976)]

fig = plt.figure(figsize=(9.15, 7.39), dpi=100, facecolor='white')
# grey MATLAB window area, with the thin white border of the screenshot
fig.patches.append(Rectangle((0.0066, 0.0014), 0.988, 0.9946, transform=fig.transFigure,
                             facecolor='#f0f0f0', edgecolor='none', zorder=-1))
ink = '#262626'

for k, (t, trials, hl) in enumerate(panels):
    ax = fig.add_axes(boxes[k])
    for i, y in enumerate(trials):
        n = min(len(t), len(y))
        ax.plot(t[:n], y[:n], color=TRIAL_COLORS[i % len(TRIAL_COLORS)], lw=0.7)
    n = min(len(t), len(hl))
    ax.plot(t[:n], hl[:n], color=HIGHLIGHT_COLOR, lw=2.0)

    ax.set_xlim(XLIMS[k])
    ax.set_ylim(YLIMS[k])
    ax.set_xticks(XTICKS[k])
    ax.set_xticklabels(XTICKLABELS[k])
    ax.set_yticks(YTICKS[k])
    ax.set_yticklabels([str(v) for v in YTICKS[k]])
    for s in ['top', 'right']:
        ax.spines[s].set_visible(False)
    for s in ['left', 'bottom']:
        ax.spines[s].set_color(ink)
        ax.spines[s].set_linewidth(0.8)
    ax.tick_params(direction='in', length=4, width=0.8, colors=ink, labelsize=12.5)
    ax.tick_params(axis='x', pad=8.5)
    ax.tick_params(axis='y', pad=5)
    ax.set_title(TITLES[k], fontsize=15, fontweight='bold', pad=6)
    ax.set_xlabel('Time (Seconds)', fontsize=14.4, color=ink, labelpad=8.5)
    ax.set_ylabel('Force (in Newtons)', fontsize=14.4, color=ink, labelpad=6)

fig.savefig('out.png', dpi=100, facecolor=fig.get_facecolor())
